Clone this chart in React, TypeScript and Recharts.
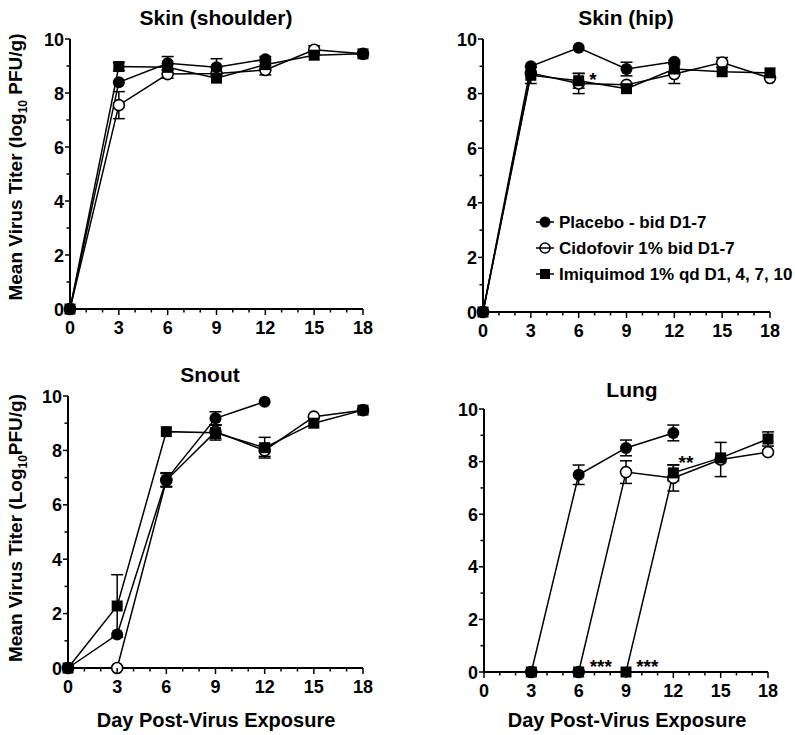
import React from "react";
import { LineChart, Line, XAxis, YAxis, ErrorBar, ReferenceDot } from "recharts";

const FONT = "'Liberation Sans', Arial, Helvetica, sans-serif";

const days = [0, 3, 6, 9, 12, 15, 18];
const xTicks = [0, 1, 2, 3, 4, 5, 6, 7, 8, 9, 10, 11, 12, 13, 14, 15, 16, 17, 18];
const yTicks = [0, 1, 2, 3, 4, 5, 6, 7, 8, 9, 10];

// Skin (shoulder)
const shoulderPlacebo = [0, 8.4, 9.1, 8.95, 9.25, null, null];
const shoulderPlaceboErr = [null, null, 0.25, 0.32, 0.1, null, null];
const shoulderCido = [0, 7.55, 8.7, 8.72, 8.85, 9.6, 9.45];
const shoulderCidoErr = [null, 0.5, 0.15, null, 0.18, 0.15, null];
const shoulderImiq = [0, 8.98, 8.95, 8.55, 9.05, 9.4, 9.45];
const shoulderImiqErr = [null, 0.15, null, null, null, null, null];

// Skin (hip)
const hipPlacebo = [0, 9.0, 9.68, 8.9, 9.17, null, null];
const hipPlaceboErr = [null, null, null, 0.25, 0.05, null, null];
const hipCido = [0, 8.75, 8.37, 8.32, 8.72, 9.14, 8.57];
const hipCidoErr = [null, null, 0.37, null, 0.35, 0.18, null];
const hipImiq = [0, 8.67, 8.47, 8.18, 8.9, 8.8, 8.76];
const hipImiqErr = [null, 0.3, 0.27, null, null, null, null];

// Snout
const snoutPlacebo = [0, 1.23, 6.93, 9.18, 9.79, null, null];
const snoutPlaceboErr = [null, null, 0.25, 0.24, null, null, null];
const snoutCido = [0, 0, 6.9, 8.69, 8.0, 9.24, 9.48];
const snoutCidoErr = [null, null, 0.25, 0.25, 0.22, null, null];
const snoutImiq = [0, 2.28, 8.69, 8.65, 8.1, 9.0, 9.48];
const snoutImiqErr = [null, 1.15, null, 0.27, 0.38, null, null];

// Lung
const lungPlacebo = [null, 0, 7.5, 8.52, 9.09, null, null];
const lungPlaceboErr = [null, null, 0.37, 0.3, 0.3, null, null];
const lungCido = [null, 0, 0, 7.6, 7.38, 8.08, 8.36];
const lungCidoErr = [null, null, null, 0.43, 0.5, 0.65, null];
const lungImiq = [null, 0, 0, 0, 7.57, 8.14, 8.86];
const lungImiqErr = [null, null, null, null, 0.3, null, 0.27];

const hipMarks = [{ day: 6.9, value: 8.68, text: "*" }];
const lungMarks = [
  { day: 12.8, value: 8.14, text: "**" },
  { day: 7.4, value: 0.38, text: "***" },
  { day: 10.35, value: 0.38, text: "***" },
];

const legendLabels = ["Placebo - bid D1-7", "Cidofovir 1% bid D1-7", "Imiquimod 1% qd D1, 4, 7, 10"];

type Num = number | null;
type Mark = { day: number; value: number; text: string };

function buildRows(p: Num[], pe: Num[], c: Num[], ce: Num[], m: Num[], me: Num[]) {
  return days.map((day, i) => ({
    day,
    placebo: p[i],
    placeboErr: pe[i],
    cido: c[i],
    cidoErr: ce[i],
    imiq: m[i],
    imiqErr: me[i],
  }));
}

const shoulderData = buildRows(shoulderPlacebo, shoulderPlaceboErr, shoulderCido, shoulderCidoErr, shoulderImiq, shoulderImiqErr);
const hipData = buildRows(hipPlacebo, hipPlaceboErr, hipCido, hipCidoErr, hipImiq, hipImiqErr);
const snoutData = buildRows(snoutPlacebo, snoutPlaceboErr, snoutCido, snoutCidoErr, snoutImiq, snoutImiqErr);
const lungData = buildRows(lungPlacebo, lungPlaceboErr, lungCido, lungCidoErr, lungImiq, lungImiqErr);

// markers
const filledCircle = (props: any) => {
  const { cx, cy, value, index } = props;
  if (cy == null || value == null) return <g key={`fc-${index}`} />;
  return <circle key={`fc-${index}`} cx={cx} cy={cy} r={6} fill="#000" />;
};
const openCircle = (props: any) => {
  const { cx, cy, value, index } = props;
  if (cy == null || value == null) return <g key={`oc-${index}`} />;
  return <circle key={`oc-${index}`} cx={cx} cy={cy} r={5.5} fill="#fff" stroke="#000" strokeWidth={1.6} />;
};
const filledSquare = (props: any) => {
  const { cx, cy, value, index } = props;
  if (cy == null || value == null) return <g key={`sq-${index}`} />;
  return <rect key={`sq-${index}`} x={cx - 5.5} y={cy - 5.5} width={11} height={11} fill="#000" />;
};

const XTick = (props: any) => {
  const { x, y, payload } = props;
  const major = payload.value % 3 === 0;
  return (
    <g>
      <line x1={x} x2={x} y1={y} y2={y + (major ? 6 : 3.5)} stroke="#000" strokeWidth={1.5} />
      {major && (
        <text x={x} y={y + 24.5} textAnchor="middle" fontFamily={FONT} fontWeight="bold" fontSize={18} fill="#000">
          {payload.value}
        </text>
      )}
    </g>
  );
};

const YTick = (props: any) => {
  const { x, y, payload } = props;
  const major = payload.value % 2 === 0;
  return (
    <g>
      <line x1={x - (major ? 5 : 3.5)} x2={x} y1={y} y2={y} stroke="#000" strokeWidth={1.5} />
      {major && (
        <text x={x - 6} y={y + 6.5} textAnchor="end" fontFamily={FONT} fontWeight="bold" fontSize={18} fill="#000">
          {payload.value}
        </text>
      )}
    </g>
  );
};

type Box = { left: number; right: number; top: number; bottom: number };

function Panel({ box, data, marks = [] }: { box: Box; data: any[]; marks?: Mark[] }) {
  const M = 12;
  const YW = 60;
  const XH = 40;
  return (
    <div style={{ position: "absolute", left: box.left - YW, top: box.top - M }}>
      <LineChart
        width={box.right - box.left + YW + M}
        height={box.bottom - box.top + M + XH}
        data={data}
        margin={{ top: M, right: M, left: 0, bottom: 0 }}
      >
        <XAxis
          dataKey="day"
          type="number"
          domain={[0, 18]}
          ticks={xTicks}
          interval={0}
          tickSize={0}
          tickMargin={0}
          tickLine={false}
          tick={(p: any) => <XTick {...p} />}
          axisLine={{ stroke: "#000", strokeWidth: 2 }}
          height={XH}
        />
        <YAxis
          type="number"
          domain={[0, 10]}
          ticks={yTicks}
          interval={0}
          tickSize={0}
          tickMargin={0}
          tickLine={false}
          tick={(p: any) => <YTick {...p} />}
          axisLine={{ stroke: "#000", strokeWidth: 2 }}
          width={YW}
        />
        {/* cidofovir sits under placebo, imiquimod on top (as in the original figure) */}
        <Line dataKey="cido" stroke="#000" strokeWidth={1.5} dot={openCircle} activeDot={false} isAnimationActive={false}>
          <ErrorBar dataKey="cidoErr" width={6} stroke="#000" strokeWidth={1.5} />
        </Line>
        <Line dataKey="placebo" stroke="#000" strokeWidth={1.5} dot={filledCircle} activeDot={false} isAnimationActive={false}>
          <ErrorBar dataKey="placeboErr" width={6} stroke="#000" strokeWidth={1.5} />
        </Line>
        <Line dataKey="imiq" stroke="#000" strokeWidth={1.5} dot={filledSquare} activeDot={false} isAnimationActive={false}>
          <ErrorBar dataKey="imiqErr" width={6} stroke="#000" strokeWidth={1.5} />
        </Line>
        {marks.map((m, i) => (
          <ReferenceDot
            key={i}
            x={m.day}
            y={m.value}
            r={0}
            shape={(p: any) => (
              <text x={p.cx} y={p.cy + 11} textAnchor="middle" fontFamily={FONT} fontWeight="bold" fontSize={19} fill="#000">
                {m.text}
              </text>
            )}
          />
        ))}
      </LineChart>
    </div>
  );
}

const txt = { fontFamily: FONT, fontWeight: "bold" as const, fill: "#000" };

function LegendRow({ y, kind, label }: { y: number; kind: number; label: string }) {
  return (
    <g>
      {kind === 0 && <circle cx={545} cy={y} r={5.5} fill="#000" />}
      {kind === 1 && <circle cx={545} cy={y} r={5} fill="#fff" stroke="#000" strokeWidth={1.5} />}
      {kind === 2 && <rect x={540} y={y - 5} width={10} height={10} fill="#000" />}
      <line x1={536} x2={554} y1={y} y2={y} stroke="#000" strokeWidth={1.5} />
      <text x={559} y={y + 6} fontSize={17} {...txt}>
        {label}
      </text>
    </g>
  );
}

export default function App() {
  return (
    <div style={{ position: "absolute", left: 0, top: 0, width: 795, height: 735, background: "#fff" }}>
      <Panel box={{ left: 70, right: 363, top: 39, bottom: 309 }} data={shoulderData} />
      <Panel box={{ left: 483, right: 770, top: 39, bottom: 312 }} data={hipData} marks={hipMarks} />
      <Panel box={{ left: 68, right: 363, top: 396, bottom: 668 }} data={snoutData} />
      <Panel box={{ left: 484, right: 768, top: 409, bottom: 672 }} data={lungData} marks={lungMarks} />
      <svg width={795} height={735} style={{ position: "absolute", left: 0, top: 0, pointerEvents: "none" }}>
        <text x={216} y={25} textAnchor="middle" fontSize={21} {...txt}>Skin (shoulder)</text>
        <text x={626} y={25} textAnchor="middle" fontSize={21} {...txt}>Skin (hip)</text>
        <text x={210} y={382} textAnchor="middle" fontSize={21} {...txt}>Snout</text>
        <text x={632} y={397} textAnchor="middle" fontSize={21} {...txt}>Lung</text>
        <text x={216} y={727} textAnchor="middle" fontSize={20} {...txt}>Day Post-Virus Exposure</text>
        <text x={627} y={727} textAnchor="middle" fontSize={20} {...txt}>Day Post-Virus Exposure</text>
        <text x={22} y={167} textAnchor="middle" fontSize={19} transform="rotate(-90 22 167)" {...txt}>
          Mean Virus Titer (log
          <tspan fontSize={12} dy={5}>10</tspan>
          <tspan dy={-5}> PFU/g)</tspan>
        </text>
        <text x={22} y={528} textAnchor="middle" fontSize={19} transform="rotate(-90 22 528)" {...txt}>
          Mean Virus Titer (Log
          <tspan fontSize={12} dy={5}>10</tspan>
          <tspan dy={-5}>PFU/g)</tspan>
        </text>
        {legendLabels.map((label, i) => (
          <LegendRow key={label} y={222 + i * 26} kind={i} label={label} />
        ))}
      </svg>
    </div>
  );
}
